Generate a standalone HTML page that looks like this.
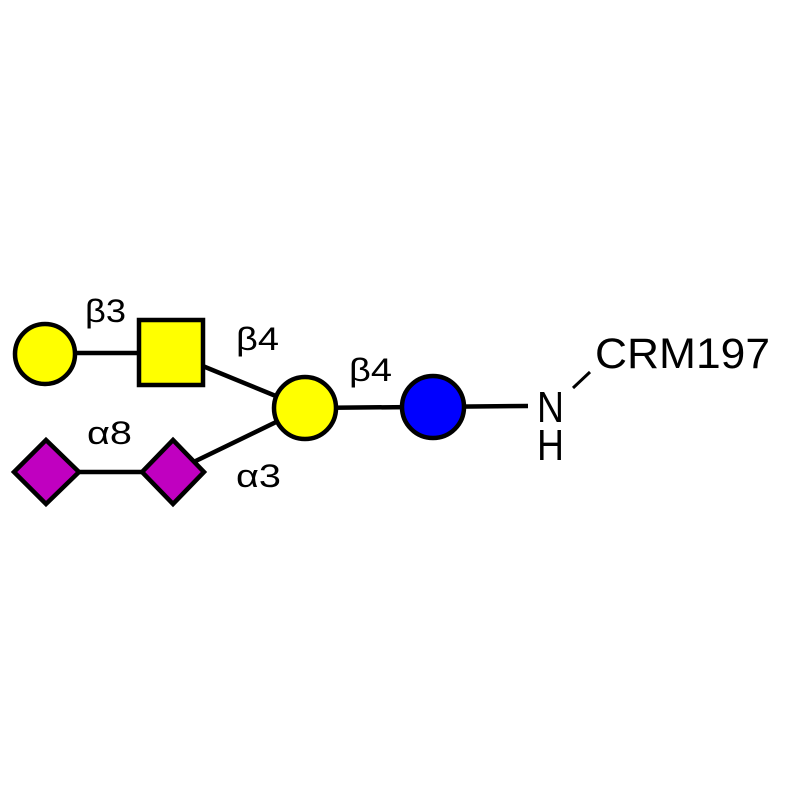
<!DOCTYPE html>
<html><head><style>html,body{margin:0;padding:0;background:#fff;width:800px;height:800px;overflow:hidden}</style></head>
<body>
<svg width="800" height="800" viewBox="0 0 800 800" xmlns="http://www.w3.org/2000/svg">
<g stroke="#000" stroke-width="4.5" fill="none">
<line x1="45" y1="353" x2="171" y2="353"/>
<line x1="171" y1="353" x2="305" y2="408"/>
<line x1="173" y1="472" x2="305" y2="408"/>
<line x1="46" y1="472" x2="173" y2="472"/>
<line x1="305" y1="408" x2="528" y2="406"/>
<line x1="573" y1="388" x2="590" y2="372" stroke-width="3"/>
</g>
<g stroke="#000" stroke-width="4.5">
<circle cx="45" cy="354" r="30" fill="#ffff00"/>
<rect x="139" y="320" width="64" height="65" fill="#ffff00"/>
<circle cx="305" cy="408" r="31" fill="#ffff00"/>
<circle cx="433" cy="407" r="31" fill="#0000ff"/>
<polygon points="46,440 79,472 46,504 14,472" fill="#c000c0"/>
<polygon points="173,440 204,472 173,504 142,472" fill="#c000c0"/>
</g>
<g font-family="Liberation Sans, sans-serif" fill="#000" font-size="32">
<text x="85" y="322" textLength="41" lengthAdjust="spacingAndGlyphs">β3</text>
<text x="236" y="350" textLength="43" lengthAdjust="spacingAndGlyphs">β4</text>
<text x="349" y="381" textLength="43" lengthAdjust="spacingAndGlyphs">β4</text>
<text x="87" y="444" textLength="45" lengthAdjust="spacingAndGlyphs">α8</text>
<text x="236" y="487" textLength="45" lengthAdjust="spacingAndGlyphs">α3</text>
<text x="595" y="368" font-size="43" textLength="175" lengthAdjust="spacingAndGlyphs">CRM197</text>
<text x="537" y="422" font-size="44" textLength="27" lengthAdjust="spacingAndGlyphs">N</text>
<text x="537" y="460" font-size="44" textLength="27" lengthAdjust="spacingAndGlyphs">H</text>
</g>
</svg>
</body></html>
